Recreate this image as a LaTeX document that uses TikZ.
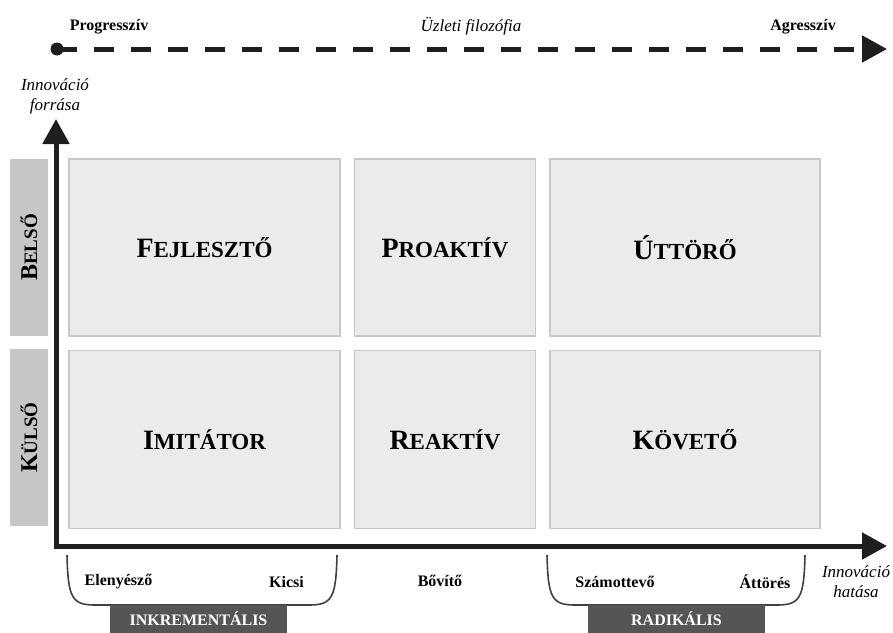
\documentclass[tikz,border=0pt]{standalone}
\usepackage{fontspec}
\setmainfont{Liberation Serif}
\usetikzlibrary{arrows.meta, positioning}
\definecolor{boxfill}{HTML}{EBEBEB}
\definecolor{boxline}{HTML}{C8C8C8}
\definecolor{sidefill}{HTML}{C6C6C6}
\definecolor{bandfill}{HTML}{555555}
\definecolor{axisline}{HTML}{1E1E1E}
\newcommand{\fsc}[2]{{\fontsize{28}{28}\selectfont #1}{\fontsize{23}{23}\selectfont #2}}
\newcommand{\ssc}[2]{{\fontsize{24}{24}\selectfont #1}{\fontsize{19}{19}\selectfont #2}}

\begin{document}
\begin{tikzpicture} [x=1pt, y=-1pt, >={Triangle[length=25pt, width=26pt]},
	quad/.style ={draw=boxline, fill=boxfill, line width=1.5pt, inner sep=0pt, font=\bfseries},
	side/.style ={fill=sidefill, inner sep=0pt, rotate=90, minimum height=38pt, font=\bfseries},
	band/.style ={fill=bandfill, text=white, inner sep=0pt, minimum width=177pt, minimum height=28pt, font=\bfseries\fontsize{16}{16}\selectfont},
	lbl/.style ={font=\bfseries\fontsize{16}{16}\selectfont, inner sep=0pt},
	ilbl/.style ={font=\itshape\fontsize{17}{20}\selectfont, align=center, inner sep=0pt},
	axis/.style ={draw=axisline, line width=5pt},
	brace/.style ={draw=axisline!85, line width=1.6pt}]
	\useasboundingbox (0,0) rectangle (893,632);
	% top scale
	\node[circle, fill=axisline, minimum size=13pt, inner sep=0pt] (lead) at (57,49) {};
	\coordinate (philend) at (887,49);
	\draw[axis, dash pattern=on 20pt off 17pt, ->] (lead.center) -- (philend);
	\node[lbl] (prog) at (109,27) {Progresszív};
	\node[ilbl] (philo) at (471,26) {Üzleti filozófia};
	\node[lbl] (agr) at (803,27) {Agresszív};
	% matrix
	\node[quad, minimum width=271pt, minimum height=177pt] (fej) at (204.5,247.5) {\fsc{F}{EJLESZTŐ}};
	\node[quad, minimum width=181pt, minimum height=177pt, right=13pt of fej] (pro) {\fsc{P}{ROAKTÍV}};
	\node[quad, minimum width=270pt, minimum height=177pt, right=13pt of pro] (utt) {\fsc{Ú}{TTÖRŐ}};
	\node[quad, minimum width=271pt, minimum height=178pt, below=13pt of fej] (imi) {\fsc{I}{MITÁTOR}};
	\node[quad, minimum width=181pt, minimum height=178pt, right=13pt of imi] (rea) {\fsc{R}{EAKTÍV}};
	\node[quad, minimum width=270pt, minimum height=178pt, right=13pt of rea] (kov) {\fsc{K}{ÖVETŐ}};
	\node[side, minimum width=177pt] (bel) at (29,247.5) {\ssc{B}{ELSŐ}};
	\node[side, minimum width=177pt] (kul) at (29,437.5) {\ssc{K}{ÜLSŐ}};
	% axes
	\coordinate (origin) at (56,546);
	\coordinate (ytip) at (56,119);
	\coordinate (xtip) at (887,546);
	\draw[axis, <->] (ytip) -- (origin) -- (xtip);
	\node[ilbl] (src) at (55,96) {Innováció\\forrása};
	\node[ilbl] (imp) at (856,582) {Innováció\\hatása};
	% bottom scale
	\draw[brace] (67,555) .. controls (68,598) and (72,605) .. (95,605) -- (309,605) .. controls (332,605) and (336,598) .. (337,555);
	\draw[brace] (547,555) .. controls (548,598) and (552,605) .. (575,605) -- (777,605) .. controls (800,605) and (804,598) .. (805,555);
	\node[lbl] (ele) at (118.5,582) {Elenyésző};
	\node[lbl] (kic) at (286.5,582) {Kicsi};
	\node[lbl] (bov) at (440,581) {Bővítő};
	\node[lbl] (szam) at (615,582) {Számottevő};
	\node[lbl] (att) at (765,582) {Áttörés};
	\node[band] (ink) at (198.5,619) {INKREMENTÁLIS};
	\node[band] (rad) at (676.5,619) {RADIKÁLIS};
\end{tikzpicture}
\end{document}
